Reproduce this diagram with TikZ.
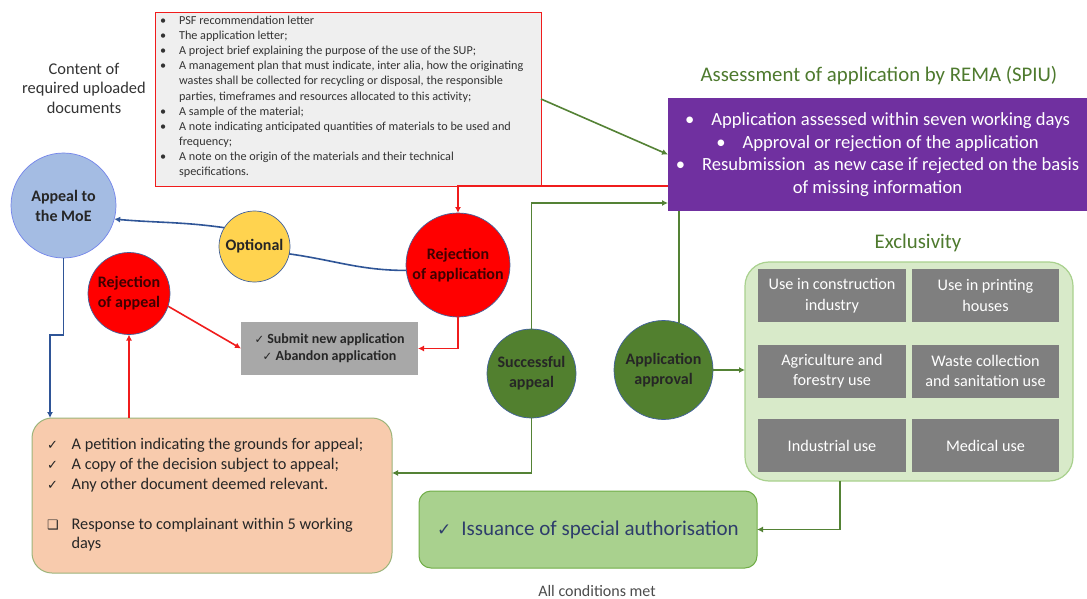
\documentclass[tikz,border=0pt]{standalone}
\usepackage{fontspec}
\setmainfont{Carlito}
\newfontfamily\symfont{DejaVu Sans}
\usetikzlibrary{arrows.meta,calc}

\definecolor{docfill}{HTML}{EFEFEF}
\definecolor{redline}{HTML}{F01C1C}
\definecolor{purplebox}{HTML}{7030A0}
\definecolor{titlegreen}{HTML}{4E7A2E}
\definecolor{linegreen}{HTML}{548235}
\definecolor{blueline}{HTML}{2F5597}
\definecolor{moeblue}{HTML}{A4BCE3}
\definecolor{optyellow}{HTML}{FFD34F}
\definecolor{circgreen}{HTML}{52802F}
\definecolor{circedge}{HTML}{41619C}
\definecolor{excfill}{HTML}{D8EAC9}
\definecolor{excborder}{HTML}{A9D18E}
\definecolor{tilegrey}{HTML}{7F7F7F}
\definecolor{submitgrey}{HTML}{A8A8A8}
\definecolor{peach}{HTML}{F8CBAD}
\definecolor{peachborder}{HTML}{9DB47A}
\definecolor{issfill}{HTML}{A9D18E}
\definecolor{issborder}{HTML}{70AD47}
\definecolor{isstext}{HTML}{2E3D6B}

\tikzset{
  every node/.style={inner sep=0pt, outer sep=0pt},
  circnode/.style={circle, draw=circedge, line width=0.7pt, align=center,
    font=\fontsize{16}{20}\selectfont\bfseries, text=black!85},
  tile/.style={rectangle, fill=tilegrey, minimum height=53pt, align=center,
    text=white, font=\fontsize{16.2}{20.5}\selectfont},
  conn/.style={line width=1.6pt, -{Latex[length=6pt,width=6pt]}},
  plainconn/.style={line width=1.6pt},
  heading/.style={text=titlegreen, font=\fontsize{20.8}{24}\selectfont},
}

\begin{document}
\begin{tikzpicture}[x=1pt,y=-1pt]
\useasboundingbox (0,0) rectangle (1087,599);
\fill[white] (0,0) rectangle (1087,599);

% ---- required documents ----
\node[draw=redline, line width=0.9pt, fill=docfill, minimum width=386pt, minimum height=174pt] (docs) at (348,99) {};
\node[anchor=north west, text=black!80, font=\fontsize{12.2}{15.1}\selectfont] (doctext) at (160,14) {%
\begin{tabular}{@{}l@{\hspace{13pt}}l@{}}
\textbullet & PSF recommendation letter\\
\textbullet & The application letter;\\
\textbullet & A project brief explaining the purpose of the use of the SUP;\\
\textbullet & A management plan that must indicate, inter alia, how the originating\\
 & wastes shall be collected for recycling or disposal, the responsible\\
 & parties, timeframes and resources allocated to this activity;\\
\textbullet & A sample of the material;\\
\textbullet & A note indicating anticipated quantities of materials to be used and\\
 & frequency;\\
\textbullet & A note on the origin of the materials and their technical\\
 & specifications.
\end{tabular}};
\node[align=center, text=black!80, font=\fontsize{16.4}{19.5}\selectfont] (doclabel) at (84,88) {Content of\\required uploaded\\documents};

% ---- assessment ----
\node[heading] (assesstitle) at (879,76) {Assessment of application by REMA (SPIU)};
\node[fill=purplebox, minimum width=419pt, minimum height=113pt, align=center,
      text=white, font=\fontsize{18.6}{22.5}\selectfont] (assess) at (877.5,154.5)
  {\textbullet\hspace{17pt}Application assessed within seven working days\\
   \textbullet\hspace{17pt}Approval or rejection of the application\\
   \textbullet\hspace{17pt}Resubmission\ \ as new case if rejected on the basis\\
   of missing information};

% ---- circles ----
\node[circnode, fill=moeblue, draw=moeblue!70!blue, minimum size=105pt] (moe) at (63.5,205.5) {Appeal to\\the MoE};
\node[circnode, fill=optyellow, minimum size=71pt] (opt) at (254.5,246.5) {Optional};
\node[circnode, fill=red, minimum size=104pt, text=black!75!red] (rejapp) at (458,265) {Rejection\\of application};
\node[circnode, fill=red, minimum size=82pt, text=black!75!red] (rejappeal) at (129,293.5) {Rejection\\of appeal};
\node[circnode, fill=circgreen, minimum size=89pt] (succ) at (531.5,373.5) {Successful\\appeal};
\node[circnode, fill=circgreen, minimum size=99pt] (appr) at (663.5,370) {Application\\approval};

% ---- outcome after rejection ----
\node[fill=submitgrey, minimum width=177pt, minimum height=53pt, align=center,
      font=\fontsize{14}{17}\selectfont\bfseries, text=black!85] (submit) at (329.5,348.5)
  {{\symfont\mdseries\fontsize{11.5}{17}\selectfont ✓} Submit new application\\
   {\symfont\mdseries\fontsize{11.5}{17}\selectfont ✓} Abandon application};

% ---- exclusivity ----
\node[heading] (exctitle) at (918,243) {Exclusivity};
\node[draw=excborder, line width=1.2pt, fill=excfill, rounded corners=24pt,
      minimum width=328pt, minimum height=219pt] (exc) at (909,371.5) {};
\node[tile, minimum width=148pt] (t1) at (832,295.5) {Use in construction\\industry};
\node[tile, minimum width=147pt] (t2) at (985.5,295.5) {Use in printing\\houses};
\node[tile, minimum width=148pt] (t3) at (832,371) {Agriculture and\\forestry use};
\node[tile, minimum width=147pt] (t4) at (985.5,371) {Waste collection\\and sanitation use};
\node[tile, minimum width=148pt] (t5) at (832,445.5) {Industrial use};
\node[tile, minimum width=147pt] (t6) at (985.5,445.5) {Medical use};

% ---- appeal documents ----
\node[draw=peachborder, line width=1pt, fill=peach, rounded corners=20pt,
      minimum width=360pt, minimum height=155pt] (petition) at (212,495.5) {};
\node[anchor=north west, text=black!85, font=\fontsize{16.3}{19.8}\selectfont] (pettext) at (47,436) {%
\begin{tabular}{@{}l@{\hspace{13pt}}l@{}}
{\symfont\fontsize{13}{19.8}\selectfont ✓} & A petition indicating the grounds for appeal;\\
{\symfont\fontsize{13}{19.8}\selectfont ✓} & A copy of the decision subject to appeal;\\
{\symfont\fontsize{13}{19.8}\selectfont ✓} & Any other document deemed relevant.\\
 & \\
{\symfont\fontsize{13}{19.8}\selectfont ❑} & Response to complainant within 5 working\\
 & days
\end{tabular}};

% ---- authorisation ----
\node[draw=issborder, line width=1pt, fill=issfill, rounded corners=12pt,
      minimum width=338pt, minimum height=77pt, text=isstext,
      font=\fontsize{21}{24}\selectfont] (iss) at (588,529.5)
  {{\symfont\fontsize{17}{24}\selectfont ✓}\hspace{10pt}Issuance of special authorisation};
\node[text=black!70, font=\fontsize{16}{19}\selectfont] (allmet) at (597,591) {All conditions met};

% ---- connectors ----
% red: rejection paths
\draw[conn, redline] (assess.west |- docs.south) -| (rejapp.north);
\draw[conn, redline] (rejapp.south) |- (submit.east);
\draw[conn, redline] (rejappeal.-18) -- (submit.west);
\draw[conn, redline] (petition.north -| rejappeal.south) -- (rejappeal.south);

% blue: appeal route
\draw[plainconn, blueline] (rejapp.186) to[out=180, in=-8] (opt.-12);
\draw[conn, blueline] (opt.148) to[out=172, in=-5] (moe.-15);
\coordinate (bj1) at (63.5,335);
\coordinate (bj2) at (50,335);
\draw[conn, blueline] (moe.south) -- (bj1) -- (bj2) -- (bj2 |- petition.north);

% green: approval route
\draw[conn, linegreen] (docs.east) -- (assess.west);
\coordinate (ga) at (668,203);
\draw[conn, linegreen] (succ.north) |- (ga);
\draw[plainconn, linegreen] (appr.72) -- (appr.72 |- assess.south);
\draw[conn, linegreen] (appr.east) -- (appr.east -| exc.west);
\coordinate (gp) at (392,473);
\draw[conn, linegreen] (succ.south) |- (gp);
\draw[conn, linegreen] ($(exc.south)+(-69,0)$) |- (iss.east);
\end{tikzpicture}
\end{document}
